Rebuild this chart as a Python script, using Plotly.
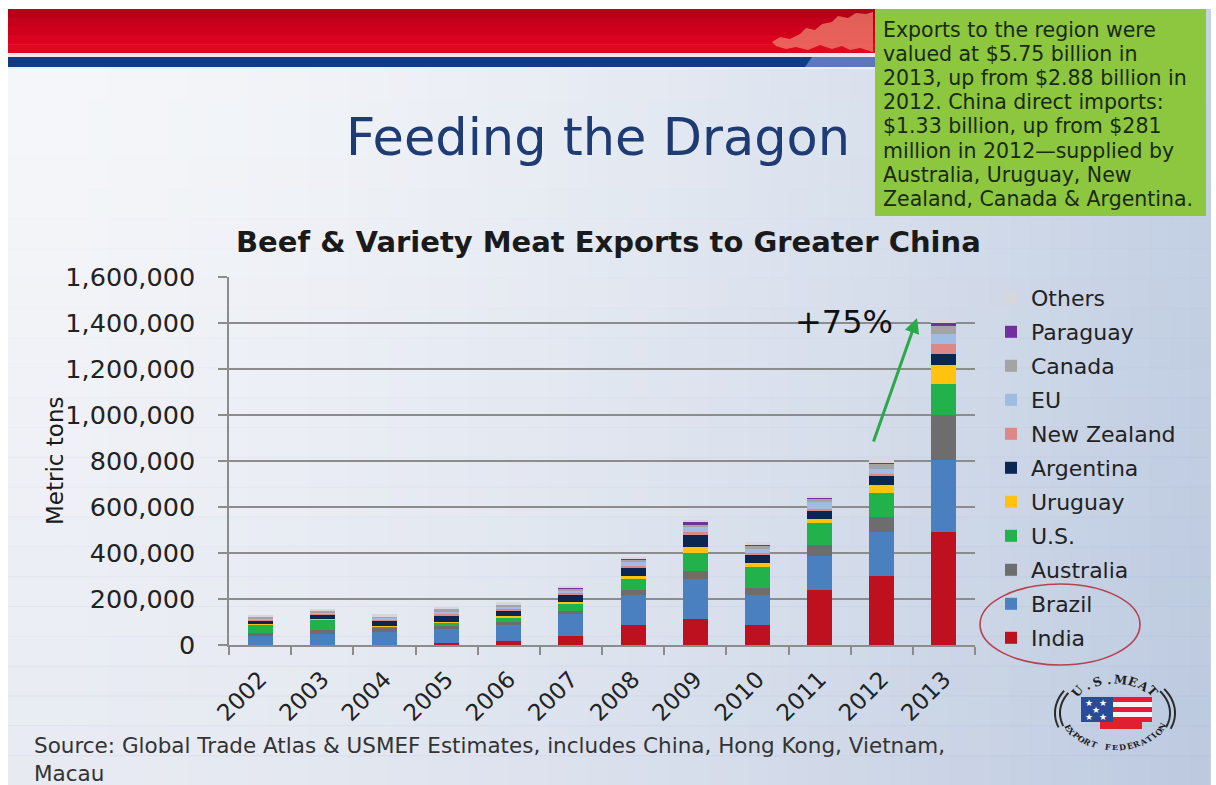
import numpy as np
import plotly.graph_objects as go

W, H = 1216, 785
# plot area in page pixels: left/right edges and the y=0 / y=max rows
X0, X1 = 229, 975
Y0, Y1 = 645, 277

FONT = "DejaVu Sans"


def xp(px):
    return (px - X0) / (X1 - X0)


def yp(py):
    return (Y0 - py) / (Y0 - Y1)


# ---------------------------------------------------------------- data
years = [str(y) for y in range(2002, 2014)]
# metric tons by supplier
india = [0, 0, 0, 10000, 17000, 39000, 86000, 112000, 86000, 240000, 300000, 490000]
brazil = [39000, 50000, 57000, 59000, 71000, 95000, 132000, 175000, 132000, 148000, 190000, 314000]
australia = [14000, 17000, 20000, 14000, 14000, 15000, 22000, 36000, 32000, 48000, 65000, 196000]
us = [34000, 43000, 3000, 15000, 18000, 32000, 47000, 76000, 90000, 93000, 108000, 133000]
uruguay = [4000, 3000, 1000, 2000, 6000, 7000, 14000, 26000, 15000, 19000, 33000, 86000]
argentina = [17000, 18000, 24000, 30000, 26000, 31000, 36000, 55000, 38000, 34000, 39000, 46000]
new_zealand = [3000, 4000, 3000, 4000, 4000, 5000, 8000, 10000, 8000, 10000, 10000, 43000]
eu = [6000, 8000, 9000, 11000, 10000, 12000, 15000, 22000, 18000, 30000, 22000, 43000]
canada = [5000, 7000, 9000, 11000, 9000, 10000, 10000, 14000, 14000, 14000, 20000, 36000]
paraguay = [0, 0, 0, 0, 0, 1000, 2000, 8000, 2000, 2000, 5000, 14000]
others = [5000, 7000, 8000, 10000, 10000, 10000, 12000, 10000, 12000, 12000, 15000, 10000]

supplier_names = ["India", "Brazil", "Australia", "U.S.", "Uruguay", "Argentina",
                  "New Zealand", "EU", "Canada", "Paraguay", "Others"]
supplier_values = [india, brazil, australia, us, uruguay, argentina,
                   new_zealand, eu, canada, paraguay, others]
supplier_colors = ["#BE1120", "#4A7FC0", "#6D6D6D", "#21B24B", "#FFC30F", "#0C2652",
                   "#DE8787", "#A0BCE2", "#A4A4A4", "#7030A0", "#D6D6DC"]

yticks = [0, 200000, 400000, 600000, 800000, 1000000, 1200000, 1400000, 1600000]

fig = go.Figure()
n_sup = len(supplier_names)
for k, (name, vals, col) in enumerate(zip(supplier_names, supplier_values, supplier_colors)):
    # stack bottom-up, list top-down in the legend
    fig.add_trace(go.Bar(
        x=years, y=vals, name=name, legendgroup=name, legendrank=n_sup - k,
        marker=dict(color=col, line=dict(width=0)),
    ))

# ---------------------------------------------------------------- decoration helpers
shapes = []
annotations = []


def rect(x0, y0, x1, y1, color):
    shapes.append(dict(type="rect", xref="paper", yref="paper", layer="below",
                       x0=xp(x0), x1=xp(x1), y0=yp(y1), y1=yp(y0),
                       fillcolor=color, line=dict(width=0)))


def poly(points, color, close=True, line=None):
    d = "M " + " L ".join(f"{xp(a):.5f},{yp(b):.5f}" for a, b in points)
    if close:
        d += " Z"
    s = dict(type="path", xref="paper", yref="paper", layer="below", path=d,
             line=line or dict(width=0))
    if close:
        s["fillcolor"] = color
    shapes.append(s)


def text(px, py, s, size, color="#222222", xanchor="center", yanchor="middle",
         angle=0, weight="normal", family=FONT, align="center"):
    annotations.append(dict(x=xp(px), y=yp(py), xref="paper", yref="paper", text=s,
                            showarrow=False, xanchor=xanchor, yanchor=yanchor,
                            textangle=angle, align=align,
                            font=dict(family=family, size=size, color=color, weight=weight)))


def mix(c0, c1, t):
    return "rgb(" + ",".join(str(int(round(a + (b - a) * t))) for a, b in zip(c0, c1)) + ")"


# slide background: light on the left, soft blue on the right and lower part
SX0, SX1, SY0, SY1 = 8, 1210, 9, 785
n = 60
step = (SX1 - SX0) / n
for i in range(n):
    t = (i + 0.5) / n
    rect(SX0 + i * step, SY0, SX0 + (i + 1) * step + 1, SY1,
         mix((245, 246, 249), (196, 208, 228), t ** 1.7))
m = 24
vstep = (SY1 - 69) / m
for j in range(m):
    t = (j + 0.5) / m
    rect(SX0, 69 + j * vstep, SX1, 69 + (j + 1) * vstep + 1,
         f"rgba(110,135,185,{0.10 * t ** 1.3:.3f})")

# red banner with navy stripe
bands = [(181, 0, 24), (196, 0, 26), (208, 0, 28), (218, 2, 30), (226, 6, 32)]
bh = (53 - 9) / len(bands)
for k, c in enumerate(bands):
    rect(SX0, 9 + k * bh, 875, 9 + (k + 1) * bh + 0.5, "rgb(%d,%d,%d)" % c)
poly([(772, 42), (780, 37), (790, 39), (800, 34), (806, 28), (815, 30), (822, 24),
      (832, 22), (838, 16), (848, 18), (856, 13), (866, 14), (873, 12), (873, 52),
      (860, 48), (850, 50), (842, 46), (832, 49), (820, 45), (808, 50), (796, 47),
      (786, 49), (776, 46)],
     "rgba(236,128,110,0.75)")
rect(SX0, 53, 875, 57, "#F4E4E8")
rect(SX0, 57, 875, 67, "#123B80")
poly([(812, 57), (875, 57), (875, 67), (805, 67)], "#5A78BA")
rect(SX0, 67, 875, 69, "#E8EEF8")

# green call-out box
rect(875, 9, 1206, 216, "#8DC63F")
callout = ["Exports to the region were",
           "valued at $5.75 billion in",
           "2013, up from $2.88 billion in",
           "2012. China direct imports:",
           "$1.33 billion, up from $281",
           "million in 2012\u2014supplied by",
           "Australia, Uruguay, New",
           "Zealand, Canada &amp; Argentina."]
for k, line in enumerate(callout):
    text(881, 30 + k * 24.1, line, 20.5, color="#1A2A12", xanchor="left")

# titles
text(598, 138, "Feeding the Dragon", 51, color="#1F3B73")
text(608, 242, "Beef &amp; Variety Meat Exports to Greater China", 29, color="#1A1A1A",
     weight="bold")
text(55, 461, "Metric tons", 23, color="#1A1A1A", angle=-90)
text(32, 759, "Source: Global Trade Atlas &amp; USMEF Estimates, includes China, Hong Kong, Vietnam,"
     "<br>Macau", 21.5, color="#333333", xanchor="left", align="left")

# growth arrow 2012 -> 2013
annotations.append(dict(x=xp(917), y=yp(318), xref="paper", yref="paper", text="",
                        showarrow=True, ax=-44, ay=125, arrowhead=2, arrowsize=1,
                        arrowwidth=3, arrowcolor="#2BA84A", standoff=0))
text(844, 322, "+75%", 32, color="#111111")

# ring drawn round Brazil and India in the legend
shapes.append(dict(type="circle", xref="paper", yref="paper", layer="above",
                   x0=xp(980), x1=xp(1140), y0=yp(665), y1=yp(584),
                   line=dict(color="#B5424F", width=1.6)))

# U.S. Meat Export Federation emblem
cx, cy = 1115, 713
for rx, ry in [(60, 42), (55, 38)]:
    for a0, a1 in [(148, 200), (-22, 35)]:
        th = np.radians(np.linspace(a0, a1, 30))
        poly(list(zip(cx + rx * np.cos(th), cy - ry * np.sin(th))), None, close=False,
             line=dict(color="#2A2A2A", width=2))
rect(1081, 697, 1113, 722, "#2A4A9A")
stripe_cols = ["#E0202E", "#F4F4F4", "#E0202E", "#F4F4F4", "#E0202E"]
for k, c in enumerate(stripe_cols):
    rect(1113, 697 + k * 5, 1152, 702 + k * 5, c)
rect(1100, 722, 1142, 729, "#E0202E")
for sx, sy in [(1089, 703), (1103, 703), (1096, 710), (1089, 717), (1103, 717)]:
    text(sx, sy, "\u2605", 9, color="#FFFFFF")
for k, ch in enumerate("U.S.MEAT"):
    a = np.radians(138 - k * (96 / 7))
    text(cx + 50 * np.cos(a), cy - 33 * np.sin(a), ch, 12, color="#1E1E1E",
         angle=90 - np.degrees(a), weight="bold", family="DejaVu Serif")
for k, ch in enumerate("EXPORT FEDERATION"):
    a = np.radians(205 + k * (130 / 16))
    text(cx + 52 * np.cos(a), cy - 34 * np.sin(a), ch, 8, color="#1E1E1E",
         angle=-(np.degrees(a) - 270), weight="bold", family="DejaVu Serif")

# ---------------------------------------------------------------- layout
grid = "#8C8C8C"
fig.update_layout(
    width=W, height=H, autosize=False,
    margin=dict(l=X0, r=W - X1, t=Y1, b=H - Y0, pad=0),
    paper_bgcolor="#FFFFFF", plot_bgcolor="rgba(0,0,0,0)",
    barmode="stack", bargap=0.6,
    font=dict(family=FONT, color="#222222"),
    shapes=shapes, annotations=annotations,
    legend=dict(x=xp(991), y=yp(277), xanchor="left", yanchor="top",
                traceorder="grouped", tracegroupgap=2.4, maxheight=600,
                bgcolor="rgba(0,0,0,0)", font=dict(family=FONT, size=22, color="#222222")),
    xaxis=dict(type="category", tickangle=-45, tickfont=dict(size=23, color="#222222"),
               ticks="outside", tickson="boundaries", ticklen=8, tickwidth=1.5,
               tickcolor=grid, showline=True, linecolor=grid, linewidth=1.5,
               showgrid=False, ticklabelstandoff=10),
    yaxis=dict(range=[0, 1600000], tickvals=yticks, tickformat=",d",
               tickfont=dict(size=25.5, color="#222222"), ticklabelstandoff=18,
               showgrid=True, gridcolor=grid, gridwidth=1.5, zeroline=False,
               ticks="outside", ticklen=9, tickwidth=1.5, tickcolor=grid,
               showline=True, linecolor=grid, linewidth=1.5),
)

fig.write_html("out.html", config={"displayModeBar": False})
